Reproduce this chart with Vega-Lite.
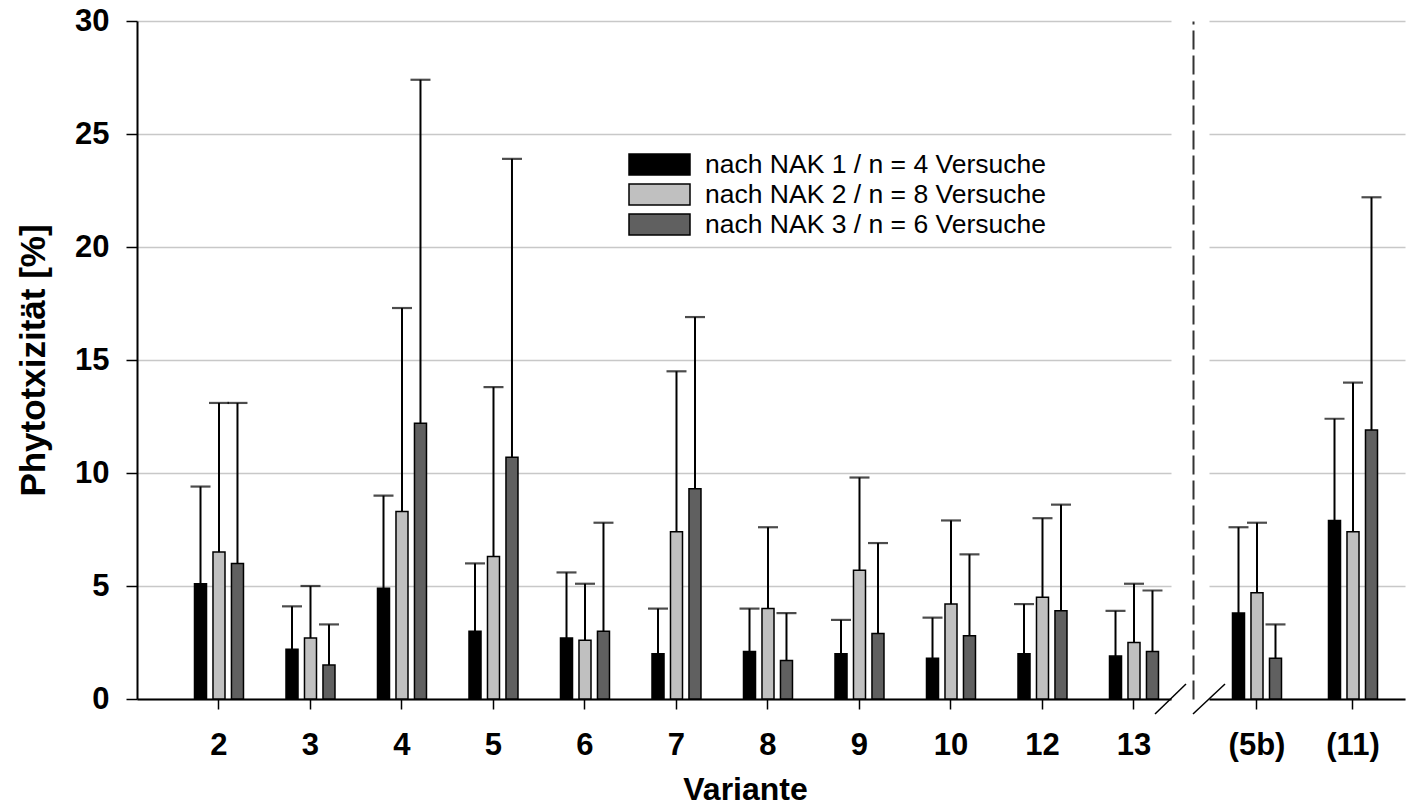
{
  "$schema": "https://vega.github.io/schema/vega-lite/v6.json",
  "background": "white",
  "padding": {"left": 16, "top": 5, "right": 2, "bottom": 0},
  "datasets": {
    "links": [
      {"Variante": "2", "Serie": "nach NAK 1 / n = 4 Versuche", "Wert": 5.1, "Oben": 9.4},
      {"Variante": "2", "Serie": "nach NAK 2 / n = 8 Versuche", "Wert": 6.5, "Oben": 13.1},
      {"Variante": "2", "Serie": "nach NAK 3 / n = 6 Versuche", "Wert": 6.0, "Oben": 13.1},
      {"Variante": "3", "Serie": "nach NAK 1 / n = 4 Versuche", "Wert": 2.2, "Oben": 4.1},
      {"Variante": "3", "Serie": "nach NAK 2 / n = 8 Versuche", "Wert": 2.7, "Oben": 5.0},
      {"Variante": "3", "Serie": "nach NAK 3 / n = 6 Versuche", "Wert": 1.5, "Oben": 3.3},
      {"Variante": "4", "Serie": "nach NAK 1 / n = 4 Versuche", "Wert": 4.9, "Oben": 9.0},
      {"Variante": "4", "Serie": "nach NAK 2 / n = 8 Versuche", "Wert": 8.3, "Oben": 17.3},
      {"Variante": "4", "Serie": "nach NAK 3 / n = 6 Versuche", "Wert": 12.2, "Oben": 27.4},
      {"Variante": "5", "Serie": "nach NAK 1 / n = 4 Versuche", "Wert": 3.0, "Oben": 6.0},
      {"Variante": "5", "Serie": "nach NAK 2 / n = 8 Versuche", "Wert": 6.3, "Oben": 13.8},
      {"Variante": "5", "Serie": "nach NAK 3 / n = 6 Versuche", "Wert": 10.7, "Oben": 23.9},
      {"Variante": "6", "Serie": "nach NAK 1 / n = 4 Versuche", "Wert": 2.7, "Oben": 5.6},
      {"Variante": "6", "Serie": "nach NAK 2 / n = 8 Versuche", "Wert": 2.6, "Oben": 5.1},
      {"Variante": "6", "Serie": "nach NAK 3 / n = 6 Versuche", "Wert": 3.0, "Oben": 7.8},
      {"Variante": "7", "Serie": "nach NAK 1 / n = 4 Versuche", "Wert": 2.0, "Oben": 4.0},
      {"Variante": "7", "Serie": "nach NAK 2 / n = 8 Versuche", "Wert": 7.4, "Oben": 14.5},
      {"Variante": "7", "Serie": "nach NAK 3 / n = 6 Versuche", "Wert": 9.3, "Oben": 16.9},
      {"Variante": "8", "Serie": "nach NAK 1 / n = 4 Versuche", "Wert": 2.1, "Oben": 4.0},
      {"Variante": "8", "Serie": "nach NAK 2 / n = 8 Versuche", "Wert": 4.0, "Oben": 7.6},
      {"Variante": "8", "Serie": "nach NAK 3 / n = 6 Versuche", "Wert": 1.7, "Oben": 3.8},
      {"Variante": "9", "Serie": "nach NAK 1 / n = 4 Versuche", "Wert": 2.0, "Oben": 3.5},
      {"Variante": "9", "Serie": "nach NAK 2 / n = 8 Versuche", "Wert": 5.7, "Oben": 9.8},
      {"Variante": "9", "Serie": "nach NAK 3 / n = 6 Versuche", "Wert": 2.9, "Oben": 6.9},
      {"Variante": "10", "Serie": "nach NAK 1 / n = 4 Versuche", "Wert": 1.8, "Oben": 3.6},
      {"Variante": "10", "Serie": "nach NAK 2 / n = 8 Versuche", "Wert": 4.2, "Oben": 7.9},
      {"Variante": "10", "Serie": "nach NAK 3 / n = 6 Versuche", "Wert": 2.8, "Oben": 6.4},
      {"Variante": "12", "Serie": "nach NAK 1 / n = 4 Versuche", "Wert": 2.0, "Oben": 4.2},
      {"Variante": "12", "Serie": "nach NAK 2 / n = 8 Versuche", "Wert": 4.5, "Oben": 8.0},
      {"Variante": "12", "Serie": "nach NAK 3 / n = 6 Versuche", "Wert": 3.9, "Oben": 8.6},
      {"Variante": "13", "Serie": "nach NAK 1 / n = 4 Versuche", "Wert": 1.9, "Oben": 3.9},
      {"Variante": "13", "Serie": "nach NAK 2 / n = 8 Versuche", "Wert": 2.5, "Oben": 5.1},
      {"Variante": "13", "Serie": "nach NAK 3 / n = 6 Versuche", "Wert": 2.1, "Oben": 4.8}
    ],
    "rechts": [
      {"Variante": "(5b)", "Serie": "nach NAK 1 / n = 4 Versuche", "Wert": 3.8, "Oben": 7.6},
      {"Variante": "(5b)", "Serie": "nach NAK 2 / n = 8 Versuche", "Wert": 4.7, "Oben": 7.8},
      {"Variante": "(5b)", "Serie": "nach NAK 3 / n = 6 Versuche", "Wert": 1.8, "Oben": 3.3},
      {"Variante": "(11)", "Serie": "nach NAK 1 / n = 4 Versuche", "Wert": 7.9, "Oben": 12.4},
      {"Variante": "(11)", "Serie": "nach NAK 2 / n = 8 Versuche", "Wert": 7.4, "Oben": 14.0},
      {"Variante": "(11)", "Serie": "nach NAK 3 / n = 6 Versuche", "Wert": 11.9, "Oben": 22.2}
    ]
  },
  "config": {
    "font": "Liberation Sans",
    "view": {"stroke": null},
    "axis": {
      "domainColor": "black", "domainWidth": 2,
      "tickColor": "black", "tickWidth": 1.5,
      "labelColor": "black", "labelFont": "Liberation Sans", "labelFontWeight": "bold", "labelFontSize": 31,
      "titleFont": "Liberation Sans", "titleFontWeight": "bold", "titleColor": "black",
      "gridColor": "#c8c8c8", "gridWidth": 1.3
    }
  },
  "bounds": "flush",
  "spacing": 38,
  "resolve": {"scale": {"color": "independent", "x": "independent", "y": "independent", "xOffset": "independent"}, "legend": {"color": "independent"}},
  "hconcat": [
    {
      "width": 1034,
      "height": 678,
      "data": {"name": "links"},
      "layer": [
        {
          "mark": {"type": "bar", "stroke": "black", "strokeWidth": 1.5},
          "encoding": {
            "x": {"field": "Variante", "type": "nominal", "sort": null,
              "scale": {"domain": ["2","3","4","5","6","7","8","9","10","12","13"], "paddingInner": 0.3939, "paddingOuter": 0.3472, "align": 0.854},
              "axis": {"title": "Variante", "titleFontSize": 32, "titlePadding": 14, "titleX": 608, "labelAngle": 0, "tickSize": 10, "labelPadding": 21, "grid": false}},
            "xOffset": {"field": "Serie", "type": "nominal", "sort": null,
              "scale": {"domain": ["nach NAK 1 / n = 4 Versuche", "nach NAK 2 / n = 8 Versuche", "nach NAK 3 / n = 6 Versuche"], "paddingInner": 0.35, "paddingOuter": 0.175}},
            "y": {"field": "Wert", "type": "quantitative",
              "scale": {"domain": [0, 30], "nice": false},
              "axis": {"title": "Phytotxizität [%]", "titleFontSize": 35, "titlePadding": 23, "values": [0,5,10,15,20,25,30], "tickSize": 11, "labelPadding": 17, "grid": true}},
            "color": {"field": "Serie", "type": "nominal",
              "scale": {"domain": ["nach NAK 1 / n = 4 Versuche", "nach NAK 2 / n = 8 Versuche", "nach NAK 3 / n = 6 Versuche"], "range": ["#000000", "#c0c0c0", "#606060"]},
              "legend": {"orient": "none", "legendX": 491, "legendY": 131, "title": null,
                "symbolType": "M-1,-0.344H1V0.344H-1Z", "symbolSize": 3721,
                "symbolStrokeColor": "black", "symbolStrokeWidth": 1.5, "symbolOpacity": 1,
                "labelFontSize": 26.5, "labelFont": "Liberation Sans", "labelColor": "black", "labelOffset": 14,
                "clipHeight": 25, "rowPadding": 3, "padding": 0, "labelLimit": 0}}
          }
        },
        {
          "mark": {"type": "rule", "color": "black", "strokeWidth": 2},
          "encoding": {
            "x": {"field": "Variante", "type": "nominal", "sort": null},
            "xOffset": {"field": "Serie", "type": "nominal", "sort": null},
            "y": {"field": "Wert", "type": "quantitative"},
            "y2": {"field": "Oben"}
          }
        },
        {
          "mark": {"type": "tick", "color": "black", "thickness": 2.2, "size": 20, "orient": "horizontal"},
          "encoding": {
            "x": {"field": "Variante", "type": "nominal", "sort": null},
            "xOffset": {"field": "Serie", "type": "nominal", "sort": null},
            "y": {"field": "Oben", "type": "quantitative"}
          }
        },
        {
          "data": {"values": [{"Variante": "13", "Wert": 0}]},
          "mark": {"type": "point", "shape": "M21,15L52,-15", "size": 4, "filled": false, "stroke": "black", "strokeWidth": 1.5, "opacity": 1},
          "encoding": {
            "x": {"field": "Variante", "type": "nominal", "sort": null},
            "y": {"field": "Wert", "type": "quantitative"}
          }
        }
      ]
    },
    {
      "width": 196,
      "height": 678,
      "data": {"name": "rechts"},
      "layer": [
        {
          "mark": {"type": "bar", "stroke": "black", "strokeWidth": 1.5},
          "encoding": {
            "x": {"field": "Variante", "type": "nominal", "sort": null,
              "scale": {"domain": ["(5b)", "(11)"], "paddingInner": 0.422, "paddingOuter": 0.2318, "align": 0.455},
              "axis": {"title": null, "labelAngle": 0, "tickSize": 10, "labelPadding": 21, "grid": false}},
            "xOffset": {"field": "Serie", "type": "nominal", "sort": null,
              "scale": {"domain": ["nach NAK 1 / n = 4 Versuche", "nach NAK 2 / n = 8 Versuche", "nach NAK 3 / n = 6 Versuche"], "paddingInner": 0.35, "paddingOuter": 0.175}},
            "y": {"field": "Wert", "type": "quantitative",
              "scale": {"domain": [0, 30], "nice": false},
              "axis": {"title": null, "labels": false, "ticks": false, "grid": true, "values": [0,5,10,15,20,25,30], "domainDash": [19, 6], "domainColor": "#333333", "domainWidth": 2, "offset": 16}},
            "color": {"field": "Serie", "type": "nominal",
              "scale": {"domain": ["nach NAK 1 / n = 4 Versuche", "nach NAK 2 / n = 8 Versuche", "nach NAK 3 / n = 6 Versuche"], "range": ["#000000", "#c0c0c0", "#606060"]},
              "legend": null}
          }
        },
        {
          "mark": {"type": "rule", "color": "black", "strokeWidth": 2},
          "encoding": {
            "x": {"field": "Variante", "type": "nominal", "sort": null},
            "xOffset": {"field": "Serie", "type": "nominal", "sort": null},
            "y": {"field": "Wert", "type": "quantitative"},
            "y2": {"field": "Oben"}
          }
        },
        {
          "mark": {"type": "tick", "color": "black", "thickness": 2.2, "size": 20, "orient": "horizontal"},
          "encoding": {
            "x": {"field": "Variante", "type": "nominal", "sort": null},
            "xOffset": {"field": "Serie", "type": "nominal", "sort": null},
            "y": {"field": "Oben", "type": "quantitative"}
          }
        },
        {
          "data": {"values": [{"Variante": "(5b)", "Wert": 0}]},
          "mark": {"type": "point", "shape": "M-64,15L-32,-15", "size": 4, "filled": false, "stroke": "black", "strokeWidth": 1.5, "opacity": 1},
          "encoding": {
            "x": {"field": "Variante", "type": "nominal", "sort": null},
            "y": {"field": "Wert", "type": "quantitative"}
          }
        }
      ]
    }
  ]
}
